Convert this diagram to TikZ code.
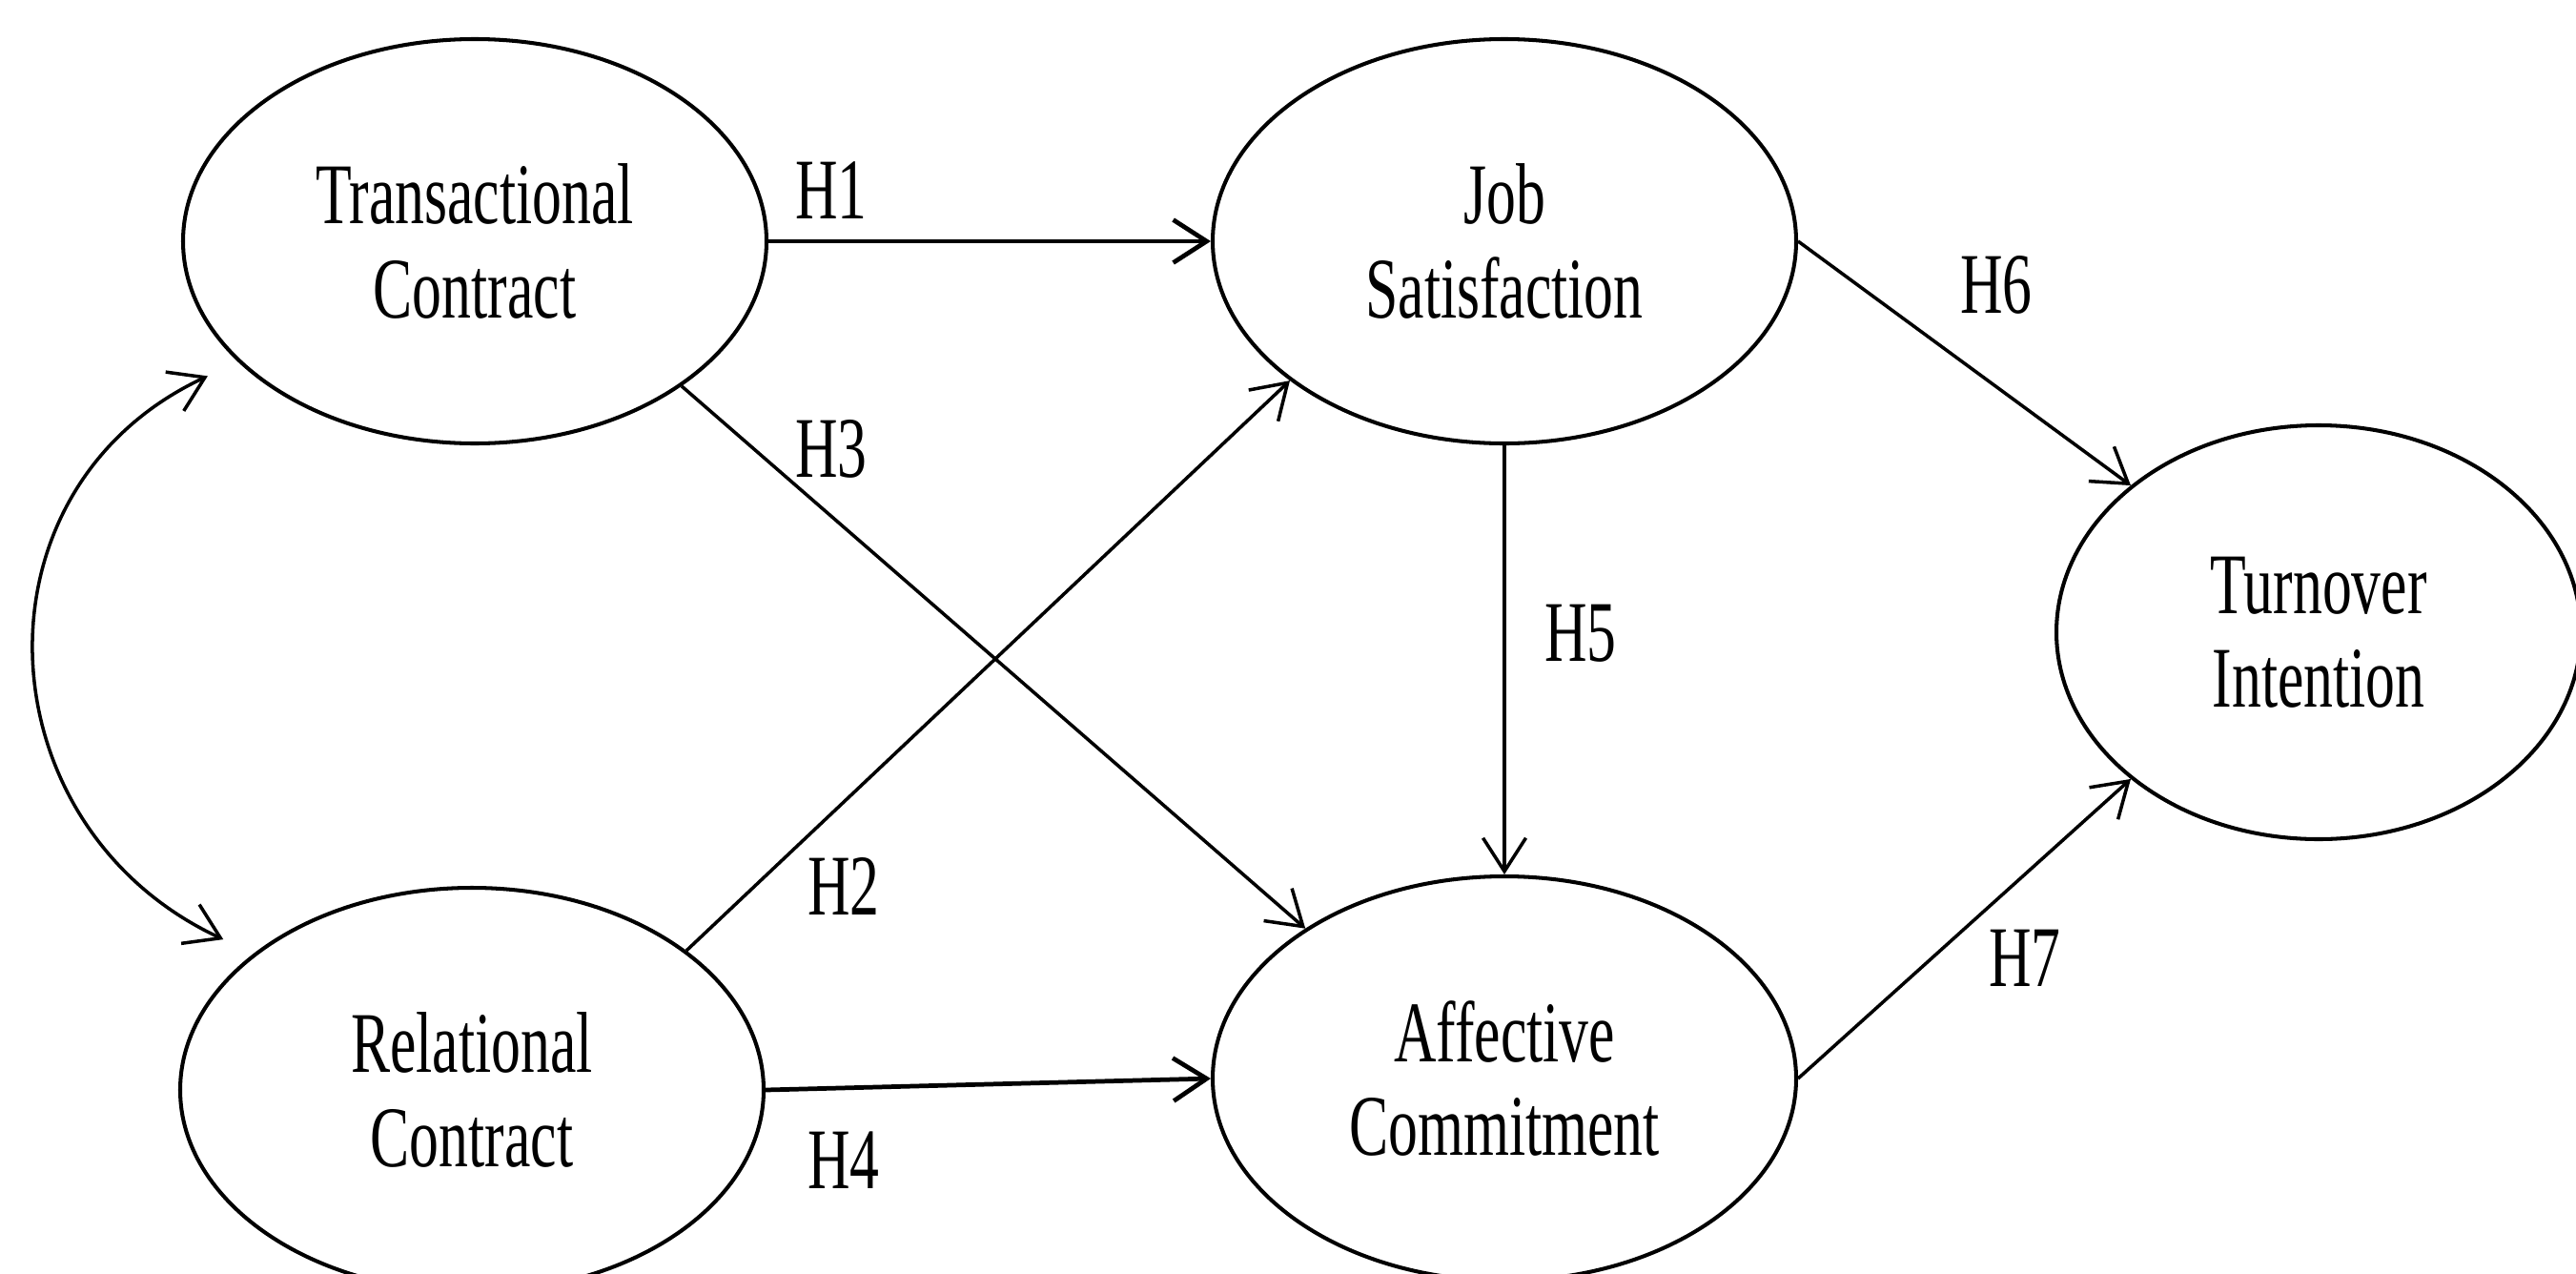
\documentclass[tikz,border=0pt]{standalone}
\usepackage{fontspec}
\setmainfont{Liberation Serif}[FakeStretch=0.68]
\usepackage{tikz}
\usetikzlibrary{arrows.meta,shapes.geometric}
\tikzset{
  latent/.style={draw,ellipse,line width=1.15pt,align=center,minimum width=6.12cm,minimum height=4.24cm,inner sep=2pt,font=\fontsize{25.8}{28}\selectfont},
  hyparrow/.style={-{Straight Barb[length=3.5mm,width=4.5mm]},line width=1pt},
  covarrow/.style={{Straight Barb[length=3.5mm,width=4.5mm]}-{Straight Barb[length=3.5mm,width=4.5mm]},line width=1pt,shorten <=3.5mm,shorten >=3.5mm},
  hlabel/.style={font=\fontsize{25.8}{28}\selectfont,inner sep=0pt}
}

\begin{document}
\begin{tikzpicture}
\useasboundingbox (0,0) rectangle (27.02,13.35);
% constructs
\node[latent] (tc) at (4.98,10.82) {Transactional\\Contract};
\node[latent] (js) at (15.78,10.82) {Job\\Satisfaction};
\node[latent] (rc) at (4.95,1.92) {Relational\\Contract};
\node[latent] (ac) at (15.78,2.04) {Affective\\Commitment};
\node[latent,minimum width=5.5cm,minimum height=4.34cm] (ti) at (24.32,6.72) {Turnover\\Intention};
% hypothesised paths
\draw[hyparrow,line width=1.35pt] (tc) -- (js);
\draw[hyparrow] (tc.-35) -- (ac.143);
\draw[hyparrow] (rc.33) -- (js.-147);
\draw[hyparrow,line width=1.35pt] (rc.east) -- (ac.west);
\draw[hyparrow] (js) -- (ac);
\draw[hyparrow] (js.east) -- (ti.142);
\draw[hyparrow] (ac.east) -- (ti.-142);
\draw[covarrow] (tc.207) to[out=205,in=155,looseness=1.3] (rc.148);
% labels
\node[hlabel] (h1) at (8.72,11.35) {H1};
\node[hlabel] (h3) at (8.72,8.64) {H3};
\node[hlabel] (h2) at (8.85,4.06) {H2};
\node[hlabel] (h4) at (8.85,1.18) {H4};
\node[hlabel] (h5) at (16.58,6.71) {H5};
\node[hlabel] (h6) at (20.94,10.36) {H6};
\node[hlabel] (h7) at (21.24,3.30) {H7};
\end{tikzpicture}
\end{document}
